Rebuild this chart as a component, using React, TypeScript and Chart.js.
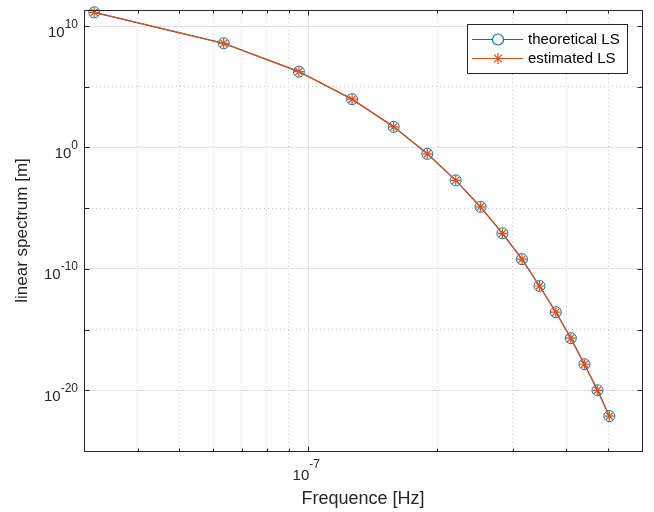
import React, { useEffect, useRef } from 'react';
import { Chart, registerables } from 'chart.js';

Chart.register(...registerables);

// ---- data ----
const frequencyHz = [
  3.17e-8, 6.35e-8, 9.51e-8, 1.265e-7, 1.582e-7, 1.895e-7, 2.207e-7, 2.521e-7,
  2.836e-7, 3.15e-7, 3.46e-7, 3.778e-7, 4.095e-7, 4.405e-7, 4.725e-7, 5.035e-7,
];
const theoreticalLS = [
  1.35e11, 3.8e8, 1.78e6, 9.5e3, 50, 0.3, 1.95e-3, 1.3e-5,
  8.5e-8, 6.3e-10, 3.9e-12, 2.7e-14, 1.95e-16, 1.4e-18, 1.0e-20, 7.4e-23,
];
const estimatedLS = [
  1.35e11, 3.8e8, 1.78e6, 9.5e3, 50, 0.3, 1.95e-3, 1.3e-5,
  8.5e-8, 6.3e-10, 3.9e-12, 2.7e-14, 1.95e-16, 1.4e-18, 1.0e-20, 7.4e-23,
];
const xTickValues = [4e-8, 5e-8, 6e-8, 7e-8, 8e-8, 9e-8, 1e-7, 2e-7, 3e-7, 4e-7, 5e-7];
const xLabelTicks = [1e-7];
const yTickValues = [1e-20, 1e-15, 1e-10, 1e-5, 1, 1e5, 1e10];
const yLabelTicks = [1e-20, 1e-10, 1, 1e10];
const seriesNames = ['theoretical LS', 'estimated LS'];
const xTitle = 'Frequence [Hz]';
const yTitle = 'linear spectrum [m]';

const FONT = "'Liberation Sans', Arial, Helvetica, sans-serif";
const AX = '#262626';
const BLUE = '#0072BD';
const ORANGE = '#D95319';

const near = (a: number, b: number) => Math.abs(Math.log10(a) - Math.log10(b)) < 1e-6;
const isLabeled = (v: number, list: number[]) => list.some((t) => near(v, t));
const expOf = (v: number) => Math.round(Math.log10(v));

function drawStar(ctx: CanvasRenderingContext2D, x: number, y: number, r: number) {
  ctx.beginPath();
  for (let k = 0; k < 4; k++) {
    const a = (k * Math.PI) / 4;
    ctx.moveTo(x - r * Math.cos(a), y - r * Math.sin(a));
    ctx.lineTo(x + r * Math.cos(a), y + r * Math.sin(a));
  }
  ctx.stroke();
}

const matlabPlugin = {
  id: 'matlabDecor',
  afterDraw(chart: any) {
    const { ctx, chartArea: a } = chart;
    const xs = chart.scales.x;
    const ys = chart.scales.y;
    ctx.save();
    // box
    const L = Math.round(a.left) + 0.5;
    const T = Math.round(a.top) + 0.5;
    const R = Math.round(a.right) + 0.5;
    const B = Math.round(a.bottom) + 0.5;
    ctx.strokeStyle = AX;
    ctx.lineWidth = 1;
    ctx.setLineDash([]);
    ctx.strokeRect(L, T, R - L, B - T);
    // inward ticks
    ctx.beginPath();
    xTickValues.forEach((v) => {
      const px = Math.round(xs.getPixelForValue(v)) + 0.5;
      const len = isLabeled(v, xLabelTicks) ? 5 : 3;
      ctx.moveTo(px, B); ctx.lineTo(px, B - len);
      ctx.moveTo(px, T); ctx.lineTo(px, T + len);
    });
    yTickValues.forEach((v) => {
      const py = Math.round(ys.getPixelForValue(v)) + 0.5;
      const len = 5;
      ctx.moveTo(L, py); ctx.lineTo(L + len, py);
      ctx.moveTo(R, py); ctx.lineTo(R - len, py);
    });
    ctx.stroke();

    // tick labels 10^n
    ctx.fillStyle = AX;
    ctx.textBaseline = 'alphabetic';
    ctx.textAlign = 'left';
    const baseFont = `15px ${FONT}`;
    const expFont = `12px ${FONT}`;
    yTickValues.filter((v) => isLabeled(v, yLabelTicks)).forEach((v) => {
      const py = ys.getPixelForValue(v);
      const e = String(expOf(v));
      ctx.font = expFont;
      const we = ctx.measureText(e).width;
      ctx.font = baseFont;
      const wb = ctx.measureText('10').width;
      const right = 78;
      ctx.font = baseFont;
      ctx.fillText('10', right - we - wb, py + 10.5);
      ctx.font = expFont;
      ctx.fillText(e, right - we, py + 1.5);
    });
    xTickValues.filter((v) => isLabeled(v, xLabelTicks)).forEach((v) => {
      const px = xs.getPixelForValue(v);
      const e = String(expOf(v));
      ctx.font = baseFont;
      const wb = ctx.measureText('10').width;
      ctx.fillText('10', px + 1 - wb, 479.5);
      ctx.font = expFont;
      ctx.fillText(e, px + 1, 468);
    });

    // legend
    const lx = 467.5, ly = 24.5, lw = 160, lh = 49;
    ctx.fillStyle = '#ffffff';
    ctx.fillRect(lx, ly, lw, lh);
    ctx.strokeStyle = AX;
    ctx.lineWidth = 1;
    ctx.strokeRect(lx, ly, lw, lh);
    const rows = [
      { y: 39.5, color: BLUE, name: seriesNames[0], mk: 'circle' },
      { y: 58.5, color: ORANGE, name: seriesNames[1], mk: 'star' },
    ];
    rows.forEach((r) => {
      ctx.strokeStyle = r.color;
      ctx.lineWidth = 1.2;
      ctx.beginPath();
      ctx.moveTo(472, r.y); ctx.lineTo(523, r.y);
      ctx.stroke();
      if (r.mk === 'circle') {
        ctx.fillStyle = '#ffffff';
        ctx.beginPath();
        ctx.arc(498, r.y, 5.5, 0, Math.PI * 2);
        ctx.fill();
        ctx.stroke();
      } else {
        drawStar(ctx, 498, r.y, 5.5);
      }
      ctx.fillStyle = '#000000';
      ctx.font = `15px ${FONT}`;
      ctx.textBaseline = 'middle';
      ctx.fillText(r.name, 528, r.y);
    });
    ctx.restore();
  },
};

export default function App() {
  const ref = useRef<HTMLCanvasElement | null>(null);
  useEffect(() => {
    if (!ref.current) return;
    const chart = new Chart(ref.current, {
      type: 'line',
      data: {
        datasets: [
          {
            label: seriesNames[0],
            data: frequencyHz.map((f, i) => ({ x: f, y: theoreticalLS[i] })),
            borderColor: BLUE,
            borderWidth: 1.2,
            pointStyle: 'circle',
            pointRadius: 5.5,
            pointBorderWidth: 1,
            pointBorderColor: BLUE,
            pointBackgroundColor: 'rgba(0,0,0,0)',
            order: 1,
            clip: false,
          },
          {
            label: seriesNames[1],
            data: frequencyHz.map((f, i) => ({ x: f, y: estimatedLS[i] })),
            borderColor: ORANGE,
            borderWidth: 1.3,
            pointStyle: 'star',
            pointRadius: 5,
            pointBorderWidth: 1.2,
            pointBorderColor: ORANGE,
            pointBackgroundColor: ORANGE,
            order: 0,
            clip: false,
          },
        ],
      },
      options: {
        animation: false,
        responsive: true,
        maintainAspectRatio: false,
        layout: { padding: { top: 10, right: 12, left: 0, bottom: 0 } },
        plugins: { legend: { display: false }, tooltip: { enabled: false } },
        scales: {
          x: {
            type: 'logarithmic',
            min: 3e-8,
            max: 6e-7,
            afterBuildTicks: (s: any) => { s.ticks = xTickValues.map((v) => ({ value: v })); },
            afterFit: (s: any) => { s.height = 61; },
            ticks: { display: false },
            grid: {
              drawTicks: false,
              lineWidth: 1,
              color: (c: any) => (c.tick && isLabeled(c.tick.value, xLabelTicks) ? '#e3e3e3' : '#c6c6c6'),
            },
            border: {
              display: false,
              dash: (c: any) => (c.tick && isLabeled(c.tick.value, xLabelTicks) ? [] : [1, 3]),
            },
            title: {
              display: true,
              text: xTitle,
              color: AX,
              font: { family: FONT, size: 18 },
              padding: { top: 0, bottom: 2 },
            },
          },
          y: {
            type: 'logarithmic',
            min: 1e-25,
            max: 2.1e11,
            afterBuildTicks: (s: any) => { s.ticks = yTickValues.map((v) => ({ value: v })); },
            afterFit: (s: any) => { s.width = 84; },
            ticks: { display: false },
            grid: {
              drawTicks: false,
              lineWidth: 1,
              color: (c: any) => (c.tick && expOf(c.tick.value) % 10 === 0 ? '#e3e3e3' : '#c6c6c6'),
            },
            border: {
              display: false,
              dash: (c: any) => (c.tick && expOf(c.tick.value) % 10 === 0 ? [] : [1, 3]),
            },
            title: {
              display: true,
              text: yTitle,
              color: AX,
              font: { family: FONT, size: 17 },
              padding: { top: 12, bottom: 0 },
            },
          },
        },
      },
      plugins: [matlabPlugin],
    } as any);
    return () => chart.destroy();
  }, []);
  return (
    <div style={{ position: 'fixed', left: 0, top: 0, width: 654, height: 512, background: '#fff' }}>
      <canvas ref={ref} />
    </div>
  );
}
